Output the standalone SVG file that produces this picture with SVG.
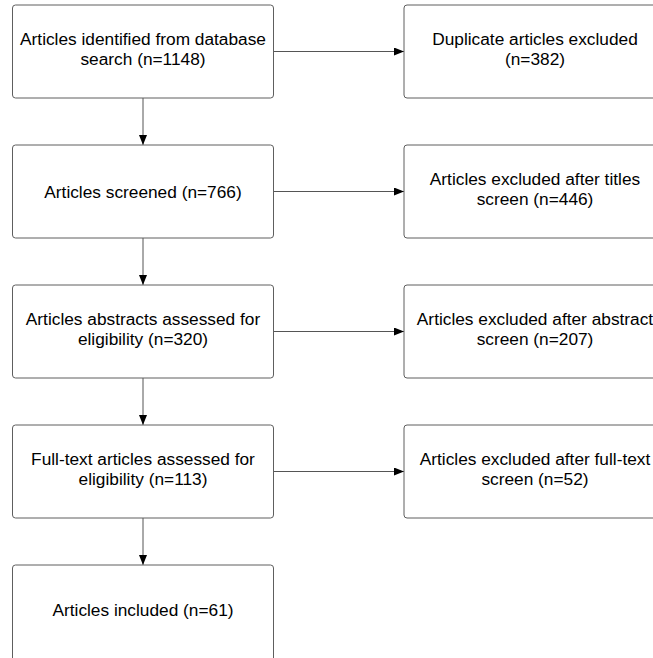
<svg xmlns="http://www.w3.org/2000/svg" width="653" height="658" viewBox="0 0 653 658">
<style>
.box{fill:#fff;stroke:#5e5e5e;stroke-width:1}
.lbl{font-family:"Liberation Sans",Arial,sans-serif;font-size:17.3px;fill:#000;text-anchor:middle}
.con{stroke:#555;stroke-width:1;fill:none;marker-end:url(#ah)}
</style>
<defs>
<marker id="ah" viewBox="0 0 10 8" refX="10" refY="4" markerWidth="10" markerHeight="8" markerUnits="userSpaceOnUse" orient="auto">
<path d="M0,0 L10,4 L0,8 Z" fill="#000"/>
</marker>
</defs>
<rect width="653" height="658" fill="#fff"/>
<g id="connectors">
<line class="con" x1="273" y1="51.5" x2="404" y2="51.5"/>
<line class="con" x1="273" y1="191.5" x2="404" y2="191.5"/>
<line class="con" x1="273" y1="331.5" x2="404" y2="331.5"/>
<line class="con" x1="273" y1="471.5" x2="404" y2="471.5"/>
<line class="con" x1="143" y1="98" x2="143" y2="145"/>
<line class="con" x1="143" y1="238" x2="143" y2="285"/>
<line class="con" x1="143" y1="378" x2="143" y2="425"/>
<line class="con" x1="143" y1="518" x2="143" y2="565"/>
</g>
<g id="n1"><rect class="box" x="12.5" y="5" width="261" height="93" rx="3"/><text class="lbl" x="143" y="45">Articles identified from database</text><text class="lbl" x="143" y="65">search (n=1148)</text></g>
<g id="n2"><rect class="box" x="404" y="5" width="262" height="93" rx="3"/><text class="lbl" x="535" y="45">Duplicate articles excluded</text><text class="lbl" x="535" y="65">(n=382)</text></g>
<g id="n3"><rect class="box" x="12.5" y="145" width="261" height="93" rx="3"/><text class="lbl" x="143" y="198">Articles screened (n=766)</text></g>
<g id="n4"><rect class="box" x="404" y="145" width="262" height="93" rx="3"/><text class="lbl" x="535" y="185">Articles excluded after titles</text><text class="lbl" x="535" y="205">screen (n=446)</text></g>
<g id="n5"><rect class="box" x="12.5" y="285" width="261" height="93" rx="3"/><text class="lbl" x="143" y="325">Articles abstracts assessed for</text><text class="lbl" x="143" y="345">eligibility (n=320)</text></g>
<g id="n6"><rect class="box" x="404" y="285" width="262" height="93" rx="3"/><text class="lbl" x="535" y="325">Articles excluded after abstract</text><text class="lbl" x="535" y="345">screen (n=207)</text></g>
<g id="n7"><rect class="box" x="12.5" y="425" width="261" height="93" rx="3"/><text class="lbl" x="143" y="465">Full-text articles assessed for</text><text class="lbl" x="143" y="485">eligibility (n=113)</text></g>
<g id="n8"><rect class="box" x="404" y="425" width="262" height="93" rx="3"/><text class="lbl" x="535" y="465">Articles excluded after full-text</text><text class="lbl" x="535" y="485">screen (n=52)</text></g>
<g id="n9"><rect class="box" x="12.5" y="565" width="261" height="100" rx="3"/><text class="lbl" x="143" y="616">Articles included (n=61)</text></g>
</svg>
